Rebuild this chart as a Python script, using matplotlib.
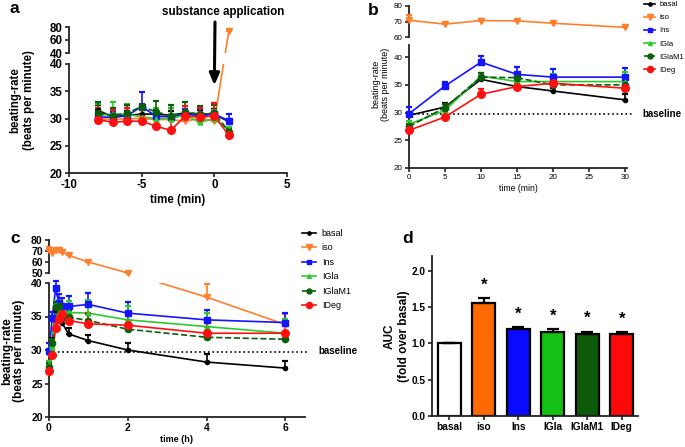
import numpy as np
import matplotlib
matplotlib.use("Agg")
import matplotlib.pyplot as plt
from matplotlib.lines import Line2D

plt.rcParams['font.family'] = ['Liberation Sans', 'DejaVu Sans']
plt.rcParams['axes.unicode_minus'] = False

groups = ['basal', 'iso', 'Ins', 'IGla', 'IGlaM1', 'IDeg']

# ---------------- Panel a: before / right after application (min)
time_a = [-8, -7, -6, -5, -4, -3, -2, -1, 0, 1]
a_basal = [31.5, 30.3, 30.6, 30.8, 30.8, 30.6, 31.0, 30.8, 30.8, 29.4]
a_basal_err = [1.0, 1.0, 0.8, 1.0, 0.8, 0.8, 0.6, 0.8, 1.0, 0.5]
a_iso = [30.0, 29.8, 30.0, 30.0, 29.8, 29.8, 29.5, 30.0, 29.5, 74.0]
a_iso_err = [0.6, 0.6, 0.6, 0.6, 0.6, 0.6, 0.6, 0.6, 0.8, 1.0]
a_ins = [30.3, 30.2, 30.5, 32.2, 30.4, 30.3, 30.8, 30.5, 30.8, 29.6]
a_ins_err = [1.0, 1.0, 1.5, 2.6, 1.3, 1.7, 1.0, 1.3, 1.6, 1.2]
a_igla = [30.6, 30.8, 30.8, 30.3, 30.0, 30.0, 30.6, 29.3, 30.0, 27.9]
a_igla_err = [2.0, 2.2, 1.8, 1.8, 2.0, 2.0, 0.8, 1.3, 1.6, 0.6]
a_iglam1 = [31.0, 30.5, 31.0, 32.2, 31.2, 30.5, 31.2, 30.8, 31.0, 27.6]
a_iglam1_err = [2.0, 1.5, 1.5, 0.5, 2.0, 2.0, 1.8, 1.5, 1.5, 0.5]
a_ideg = [29.8, 29.3, 29.5, 29.5, 28.6, 27.8, 30.5, 30.2, 30.5, 26.9]
a_ideg_err = [2.2, 2.2, 2.5, 2.5, 2.5, 2.8, 1.8, 1.8, 2.3, 0.5]
application_time = 0

# ---------------- Panel b: first 30 min (min)
time_b = [0, 5, 10, 15, 20, 30]
b_basal = [29.5, 31.0, 36.0, 34.7, 33.9, 32.3]
b_basal_err = [0.4, 0.8, 0.4, 0.5, 0.5, 1.0]
b_iso = [70.8, 68.3, 70.6, 70.4, 68.9, 66.2]
b_iso_err = [3.5, 1.0, 1.0, 0.8, 0.8, 0.5]
b_ins = [29.8, 34.8, 39.1, 36.9, 36.4, 36.4]
b_ins_err = [1.2, 0.8, 1.1, 1.4, 1.4, 1.7]
b_igla = [27.9, 30.4, 36.6, 35.6, 35.6, 35.6]
b_igla_err = [0.5, 0.7, 0.6, 1.0, 1.3, 1.7]
b_iglam1 = [27.5, 30.9, 36.4, 36.3, 35.0, 35.0]
b_iglam1_err = [0.5, 0.7, 0.7, 0.8, 1.0, 1.0]
b_ideg = [26.8, 29.2, 33.3, 34.7, 35.3, 34.4]
b_ideg_err = [0.6, 0.4, 0.9, 0.5, 1.2, 0.8]

# ---------------- Panel c: 6 h time course (h)
time_c = [0, 0.083, 0.167, 0.25, 0.333, 0.5, 1, 2, 4, 6]
c_basal = [29.5, 31.0, 36.0, 34.7, 34.0, 32.4, 31.4, 30.0, 28.2, 27.3]
c_basal_err = [0.4, 0.8, 0.4, 0.5, 0.5, 0.9, 0.9, 1.1, 1.2, 1.0]
c_iso = [71.0, 68.5, 70.5, 70.5, 69.0, 66.0, 60.0, 50.0, 37.9, 33.8]
c_iso_err = [3.0, 1.0, 1.0, 1.0, 1.0, 0.5, 0.5, 0.5, 2.0, 1.5]
c_ins = [29.8, 34.8, 39.2, 37.0, 36.5, 36.5, 36.8, 35.5, 34.5, 34.1]
c_ins_err = [1.2, 0.8, 1.1, 1.3, 1.3, 1.5, 1.7, 1.6, 1.5, 1.4]
c_igla = [27.9, 30.4, 36.7, 35.6, 35.6, 35.6, 35.5, 34.5, 33.5, 32.5]
c_igla_err = [0.5, 0.7, 0.6, 1.0, 1.3, 1.7, 2.0, 2.0, 2.0, 2.2]
c_iglam1 = [27.5, 31.0, 36.4, 36.5, 35.0, 34.9, 34.4, 33.1, 31.9, 31.6]
c_iglam1_err = [0.5, 0.7, 0.7, 0.8, 1.0, 1.0, 1.0, 1.0, 1.0, 1.0]
c_ideg = [26.8, 29.2, 33.3, 34.7, 35.3, 34.4, 33.9, 33.7, 32.5, 32.5]
c_ideg_err = [0.6, 0.4, 0.9, 0.5, 1.2, 0.8, 1.6, 1.8, 1.5, 1.3]

baseline = 29.7

# ---------------- Panel d: AUC
auc_vals = [1.00, 1.56, 1.20, 1.16, 1.13, 1.13]
auc_err = [0.00, 0.06, 0.02, 0.03, 0.03, 0.02]
significant = [False, True, True, True, True, True]

# ---------------- styles
styles = {
    'basal':  dict(color='#000000', marker='o', ms=3.0, ls='-'),
    'iso':    dict(color='#FF7F2A', marker='v', ms=5.0, ls='-'),
    'Ins':    dict(color='#1414FF', marker='s', ms=4.0, ls='-'),
    'IGla':   dict(color='#2DC82D', marker='^', ms=3.5, ls='-'),
    'IGlaM1': dict(color='#0A5F0A', marker='o', ms=4.5, ls='--'),
    'IDeg':   dict(color='#FF1010', marker='o', ms=5.5, ls='-'),
}
bar_colors = ['#FFFFFF', '#FF6A00', '#0A0AFF', '#14C014', '#0A5A0A', '#FF0A0A']

W, H = 685, 447
fig = plt.figure(figsize=(W / 100, H / 100), dpi=100)


def rect(l, t, r, b):
    return [l / W, 1 - b / H, (r - l) / W, (b - t) / H]


def style_axis(ax, fs, bold, upper=False):
    for s in ('top', 'right'):
        ax.spines[s].set_visible(False)
    for s in ('left', 'bottom'):
        ax.spines[s].set_linewidth(1.3)
        ax.spines[s].set_color('#222222')
    ax.tick_params(direction='out', length=3, width=1.2, labelsize=fs, pad=1.5, colors='#222222')
    ax.tick_params(labelcolor='black')
    if upper:
        ax.spines['bottom'].set_visible(False)
        ax.set_xticks([])
    if bold:
        for lbl in ax.get_xticklabels() + ax.get_yticklabels():
            lbl.set_fontweight('bold')
    ax.patch.set_alpha(0)


def draw_series(ax_lo, ax_hi, x, y, err, st, capsize=2.3, lw=1.2):
    x = np.asarray(x, float)
    y = np.asarray(y, float)
    e = np.asarray(err, float)
    xy = np.column_stack([x, y])
    hi = y > ax_lo.get_ylim()[1]
    disp = np.where(hi[:, None], ax_hi.transData.transform(xy), ax_lo.transData.transform(xy))
    for ax, sel in ((ax_lo, ~hi), (ax_hi, hi)):
        pts = ax.transData.inverted().transform(disp)
        ax.plot(pts[:, 0], pts[:, 1], color=st['color'], ls=st['ls'], lw=lw, clip_on=True, zorder=2)
        if sel.any():
            ax.errorbar(x[sel], y[sel], yerr=[np.zeros(sel.sum()), e[sel]], fmt='none',
                        ecolor=st['color'], elinewidth=1.2, capsize=capsize, capthick=1.6,
                        clip_on=False, zorder=3)
            ax.plot(x[sel], y[sel], ls='none', marker=st['marker'], ms=st['ms'],
                    color=st['color'], mec=st['color'], clip_on=False, zorder=4)


def legend_handles():
    hs = []
    for g in groups:
        st = styles[g]
        hs.append(Line2D([], [], color=st['color'], ls=st['ls'], lw=1.2, marker=st['marker'],
                         ms=st['ms'] * 0.8))
    return hs


# ================= Panel a
ax_a = fig.add_axes(rect(69, 64, 287, 173))
ax_a_up = fig.add_axes(rect(69, 27, 287, 53))
for ax in (ax_a, ax_a_up):
    ax.set_xlim(-10, 5)
ax_a.set_ylim(20, 40)
ax_a.set_yticks([20, 25, 30, 35, 40])
ax_a.set_xticks([-10, -5, 0, 5])
ax_a_up.set_ylim(40, 80)
ax_a_up.set_yticks([40, 60, 80])
style_axis(ax_a, 8.3, True)
style_axis(ax_a_up, 8.3, True, upper=True)
a_data = [(a_basal, a_basal_err), (a_iso, a_iso_err), (a_ins, a_ins_err),
          (a_igla, a_igla_err), (a_iglam1, a_iglam1_err), (a_ideg, a_ideg_err)]
for g, (v, e) in zip(groups, a_data):
    draw_series(ax_a, ax_a_up, time_a, v, e, styles[g], capsize=2.3)
ax_a.set_xlabel('time (min)', fontsize=8.3, fontweight='bold', labelpad=2)
fig.text(22 / W, 1 - 100 / H, 'beating-rate\n(beats per minute)', rotation=90, ha='center',
         va='center', fontsize=8.3, fontweight='bold', linespacing=1.15)
fig.text(223 / W, 1 - 15 / H, 'substance application', ha='center', va='baseline',
         fontsize=8.4, fontweight='bold')
ax_a.annotate('', xy=(application_time, 36.1), xycoords='data',
              xytext=(215, H - 22), textcoords='figure pixels',
              arrowprops=dict(arrowstyle='-|>,head_length=0.7,head_width=0.3', lw=2.2,
                              color='black', shrinkA=0, shrinkB=0), annotation_clip=False)
fig.text(9 / W, 1 - 13 / H, 'a', fontsize=12.5, fontweight='bold', va='baseline')

# ================= Panel b
ax_b = fig.add_axes(rect(409, 45, 627, 168))
ax_b_up = fig.add_axes(rect(409, 6, 627, 37))
for ax in (ax_b, ax_b_up):
    ax.set_xlim(0, 30.3)
ax_b.set_ylim(20, 42.2)
ax_b.set_yticks([20, 25, 30, 35, 40])
ax_b.set_xticks([0, 5, 10, 15, 20, 25, 30])
ax_b_up.set_ylim(60, 80)
ax_b_up.set_yticks([60, 70, 80])
style_axis(ax_b, 5.8, False)
style_axis(ax_b_up, 5.8, False, upper=True)
b_data = [(b_basal, b_basal_err), (b_iso, b_iso_err), (b_ins, b_ins_err),
          (b_igla, b_igla_err), (b_iglam1, b_iglam1_err), (b_ideg, b_ideg_err)]
ax_b.axhline(baseline, xmin=0, xmax=1.03, color='black', ls=':', lw=1.2, clip_on=False, zorder=1)
for g, (v, e) in zip(groups, b_data):
    draw_series(ax_b, ax_b_up, time_b, v, e, styles[g], capsize=2.0)
ax_b.set_xlabel('time (min)', fontsize=6.2, labelpad=2)
fig.text(381 / W, 1 - 84 / H, 'beating-rate\n(beats per minute)', rotation=90, ha='center',
         va='center', fontsize=6.5, linespacing=1.1)
fig.text(642 / W, 1 - 114 / H, 'baseline', ha='left', va='center', fontsize=7, fontweight='bold')
fig.text(368 / W, 1 - 15 / H, 'b', fontsize=12.5, fontweight='bold', va='baseline')
ax_b.legend(legend_handles(), groups, loc='upper left', bbox_to_anchor=(644 / W, 1 - 1 / H),
            bbox_transform=fig.transFigure, frameon=False, borderpad=0, borderaxespad=0,
            fontsize=5.5, handlelength=1.5, handletextpad=0.5, labelspacing=0.75)

# ================= Panel c
ax_c = fig.add_axes(rect(49, 283, 305, 417))
ax_c_up = fig.add_axes(rect(49, 240, 305, 273))
for ax in (ax_c, ax_c_up):
    ax.set_xlim(0, 6.5)
ax_c.set_ylim(20, 40)
ax_c.set_yticks([20, 25, 30, 35, 40])
ax_c.set_xticks([0, 2, 4, 6])
ax_c_up.set_ylim(50, 80)
ax_c_up.set_yticks([50, 60, 70, 80])
style_axis(ax_c, 7.5, True)
style_axis(ax_c_up, 7.5, True, upper=True)
c_data = [(c_basal, c_basal_err), (c_iso, c_iso_err), (c_ins, c_ins_err),
          (c_igla, c_igla_err), (c_iglam1, c_iglam1_err), (c_ideg, c_ideg_err)]
ax_c.axhline(baseline, xmin=0, xmax=1.012, color='black', ls=':', lw=1.2, clip_on=False, zorder=1)
for g, (v, e) in zip(groups, c_data):
    draw_series(ax_c, ax_c_up, time_c, v, e, styles[g], capsize=2.5)
ax_c.set_xlabel('time (h)', fontsize=6.5, fontweight='bold', labelpad=1)
fig.text(13 / W, 1 - 351 / H, 'beating-rate\n(beats per minute)', rotation=90, ha='center',
         va='center', fontsize=8.5, fontweight='bold', linespacing=1.05)
fig.text(318 / W, 1 - 351 / H, 'baseline', ha='left', va='center', fontsize=7, fontweight='bold')
fig.text(10 / W, 1 - 243 / H, 'c', fontsize=12.5, fontweight='bold', va='baseline')
ax_c.legend(legend_handles(), groups, loc='upper left', bbox_to_anchor=(302 / W, 1 - 229 / H),
            bbox_transform=fig.transFigure, frameon=False, borderpad=0, borderaxespad=0,
            fontsize=6.5, handlelength=1.6, handletextpad=0.6, labelspacing=0.6)

# ================= Panel d
ax_d = fig.add_axes(rect(432, 256, 638, 416))
xpos = np.arange(len(groups))
ax_d.bar(xpos, auc_vals, width=0.67, color=bar_colors, edgecolor='black', linewidth=1.6, zorder=2)
ax_d.errorbar(xpos, auc_vals, yerr=[np.zeros(len(auc_vals)), auc_err], fmt='none', ecolor='black',
              elinewidth=1.6, capsize=4.5, capthick=1.6, zorder=3)
for i, sig in enumerate(significant):
    if sig:
        ax_d.annotate('*', (xpos[i], auc_vals[i] + auc_err[i]), xytext=(0, 4),
                      textcoords='offset points', ha='center', va='bottom', fontsize=12,
                      fontweight='bold')
ax_d.set_xlim(-0.5, 5.47)
ax_d.set_ylim(0, 2.2)
ax_d.set_yticks([0.0, 0.5, 1.0, 1.5, 2.0])
ax_d.set_yticklabels(['0.0', '0.5', '1.0', '1.5', '2.0'])
ax_d.set_xticks(xpos)
ax_d.set_xticklabels(groups)
style_axis(ax_d, 7.3, True)
fig.text(397 / W, 1 - 336 / H, 'AUC\n(fold over basal)', rotation=90, ha='center', va='center',
         fontsize=8.5, fontweight='bold', linespacing=1.2)
fig.text(402 / W, 1 - 243 / H, 'd', fontsize=12.5, fontweight='bold', va='baseline')

fig.savefig('out.png', dpi=100)
